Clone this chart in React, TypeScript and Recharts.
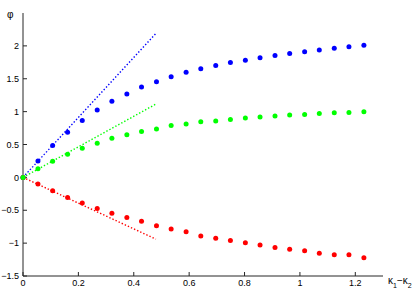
import React from 'react';
import { ComposedChart, Scatter, XAxis, YAxis } from 'recharts';

const xs = [0, 0.054, 0.107, 0.161, 0.214, 0.268, 0.321, 0.375, 0.428, 0.482, 0.535, 0.589, 0.642, 0.696, 0.749, 0.803, 0.856, 0.910, 0.963, 1.017, 1.070, 1.124, 1.177, 1.231];
const blueVals = [0, 0.249, 0.483, 0.688, 0.866, 1.024, 1.156, 1.269, 1.376, 1.453, 1.529, 1.6, 1.651, 1.702, 1.748, 1.783, 1.82, 1.855, 1.885, 1.911, 1.936, 1.962, 1.988, 2.008];
const greenVals = [0, 0.13, 0.245, 0.35, 0.443, 0.52, 0.596, 0.647, 0.697, 0.734, 0.789, 0.81, 0.846, 0.856, 0.881, 0.902, 0.917, 0.933, 0.948, 0.957, 0.972, 0.983, 0.988, 0.998];
const redVals = [0, -0.102, -0.205, -0.306, -0.388, -0.474, -0.546, -0.612, -0.668, -0.734, -0.786, -0.826, -0.893, -0.924, -0.959, -0.994, -1.03, -1.066, -1.092, -1.116, -1.153, -1.177, -1.177, -1.223];

const lineX = [0, 0.48];
const blueLine = [0, 2.19];
const greenLine = [0, 1.115];
const redLine = [0, -0.94];

const xTicks = [0, 0.2, 0.4, 0.6, 0.8, 1, 1.2];
const yTicks = [-1.5, -1, -0.5, 0, 0.5, 1, 1.5, 2];

const toPts = (x: number[], y: number[]) => x.map((v, i) => ({ x: v, y: y[i] }));

const FONT = '"Liberation Sans", Arial, sans-serif';
const AXIS = '#262626';
const FS = 9;

const dot = (color: string) => (props: any) => (
  <circle cx={props.cx} cy={props.cy} r={2.5} fill={color} />
);
const none = () => <g />;

const fmt = (v: number) => String(v).replace('-', '\u2212');

const dashed = (c: string) => ({ stroke: c, strokeWidth: 1.4, strokeDasharray: '1.4 2' });

export default function App() {
  return (
    <div style={{ position: 'absolute', left: 0, top: 0, background: '#fff' }}>
      <ComposedChart width={415} height={297} margin={{ top: 13, right: 32, bottom: 0, left: 0 }}>
        <XAxis
          type="number"
          dataKey="x"
          domain={[0, 1.3]}
          ticks={xTicks}
          height={21}
          tickSize={-4}
          tickMargin={8}
          stroke={AXIS}
          tick={{ fill: '#000', fontSize: FS, fontFamily: FONT }}
          tickFormatter={fmt}
          label={{
            content: (p: any) => {
              const vb = p.viewBox;
              return (
                <text x={vb.x + vb.width + 5} y={vb.y + 8} fontSize={FS + 1} fontFamily={FONT} fill="#000">
                  κ<tspan fontSize={7} dy={4}>1</tspan><tspan dy={-4}>−κ</tspan><tspan fontSize={7} dy={4}>2</tspan>
                </text>
              );
            },
          }}
        />
        <YAxis
          type="number"
          dataKey="y"
          domain={[-1.5, 2.5]}
          ticks={yTicks}
          width={23}
          tickSize={-4}
          tickMargin={8}
          stroke={AXIS}
          tick={{ fill: '#000', fontSize: FS, fontFamily: FONT }}
          tickFormatter={fmt}
          label={{
            content: (p: any) => {
              const vb = p.viewBox;
              return (
                <text x={vb.x + 7} y={vb.y + 5} fontSize={FS + 1} fontFamily={FONT} fill="#000">φ</text>
              );
            },
          }}
        />
        <Scatter data={toPts(lineX, blueLine)} line={dashed('#0000ff')} shape={none} isAnimationActive={false} />
        <Scatter data={toPts(lineX, greenLine)} line={dashed('#00ff00')} shape={none} isAnimationActive={false} />
        <Scatter data={toPts(lineX, redLine)} line={dashed('#ff0000')} shape={none} isAnimationActive={false} />
        <Scatter data={toPts(xs, blueVals)} shape={dot('#0000ff')} isAnimationActive={false} />
        <Scatter data={toPts(xs, redVals)} shape={dot('#ff0000')} isAnimationActive={false} />
        <Scatter data={toPts(xs, greenVals)} shape={dot('#00ff00')} isAnimationActive={false} />
      </ComposedChart>
    </div>
  );
}
